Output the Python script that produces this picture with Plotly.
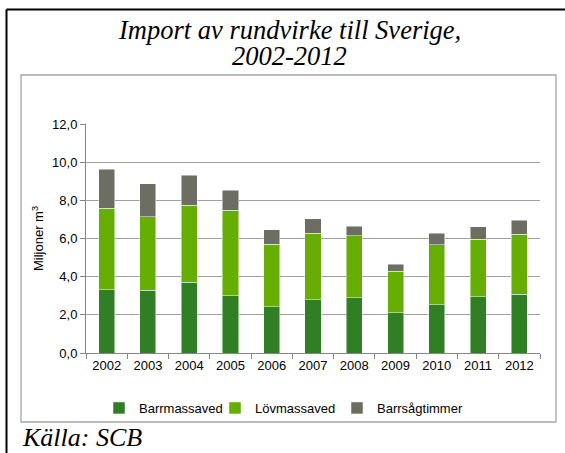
import plotly.graph_objects as go

# Data (miljoner m3)
years = ["2002", "2003", "2004", "2005", "2006", "2007", "2008", "2009", "2010", "2011", "2012"]
barrmassaved = [3.32, 3.28, 3.70, 3.00, 2.43, 2.78, 2.90, 2.11, 2.53, 2.95, 3.09]
lovmassaved = [4.26, 3.87, 4.04, 4.49, 3.28, 3.49, 3.25, 2.17, 3.13, 3.02, 3.13]
barrsagtimmer = [2.05, 1.72, 1.57, 1.04, 0.75, 0.77, 0.49, 0.38, 0.61, 0.65, 0.73]
series_names = ["Barrmassaved", "Lövmassaved", "Barrsågtimmer"]
series_colors = ["#317F24", "#67AE04", "#6D6E63"]
y_ticks = [0, 2, 4, 6, 8, 10, 12]

W, H = 565, 453
L, R, T, B = 86, 540, 124, 353  # plot area in pixels


def px(x):
    return (x - L) / (R - L)


def py(y):
    return (B - y) / (B - T)


serif = "Liberation Serif, Times New Roman"

fig = go.Figure()
# legend entry widths tuned so the items sit close together like in the reference
legend_widths = [71, 77, None]
for name, vals, col, lw in zip(series_names, [barrmassaved, lovmassaved, barrsagtimmer],
                               series_colors, legend_widths):
    fig.add_trace(go.Bar(x=years, y=vals, name=name, marker_color=col,
                         marker_line=dict(color="rgba(255,255,255,0.6)", width=0.8),
                         legendwidth=lw))

fig.update_layout(
    width=W, height=H,
    barmode="stack", bargap=0.61,
    separators=", ",
    paper_bgcolor="white", plot_bgcolor="white",
    margin=dict(l=L, r=W - R, t=T, b=H - B, pad=0),
    font=dict(family="Liberation Sans, Arial", size=13, color="black"),
    showlegend=True,
    legend=dict(orientation="h", x=px(99), y=py(408), xanchor="left", yanchor="middle",
                font=dict(size=13), itemwidth=30, traceorder="normal",
                bgcolor="rgba(0,0,0,0)"),
    shapes=[
        # gray chart frame
        dict(type="rect", xref="paper", yref="paper", x0=px(21), x1=px(556), y0=py(422), y1=py(75),
             line=dict(color="#A6A6A6", width=1.3), layer="below"),
        # black outer frame, top and left
        dict(type="line", xref="paper", yref="paper", x0=px(6.5), x1=px(570), y0=py(9.5), y1=py(9.5),
             line=dict(color="black", width=2)),
        dict(type="line", xref="paper", yref="paper", x0=px(6.5), x1=px(6.5), y0=py(9.5), y1=py(460),
             line=dict(color="black", width=2)),
    ],
    annotations=[
        dict(xref="paper", yref="paper", x=px(289), y=py(30), xanchor="center", yanchor="middle",
             text="<i>Import av rundvirke till Sverige,</i>", showarrow=False,
             font=dict(family=serif, size=26.5, color="black")),
        dict(xref="paper", yref="paper", x=px(289), y=py(56), xanchor="center", yanchor="middle",
             text="<i>2002-2012</i>", showarrow=False,
             font=dict(family=serif, size=26.5, color="black")),
        dict(xref="paper", yref="paper", x=px(20), y=py(438), xanchor="left", yanchor="middle",
             text="<i>Källa: SCB</i>", showarrow=False,
             font=dict(family=serif, size=26, color="black")),
    ],
)

fig.update_yaxes(range=[0, 12], tickvals=y_ticks, tickformat=".1f",
                 showgrid=True, gridcolor="#A0A0A0", gridwidth=1,
                 showline=True, linecolor="#868686", linewidth=1,
                 ticks="outside", ticklen=5, tickcolor="#868686",
                 title=dict(text="Miljoner m<sup>3</sup>", font=dict(size=13), standoff=5),
                 zeroline=False)
fig.update_xaxes(showline=True, linecolor="#868686", linewidth=1,
                 ticks="outside", ticklen=5, tickcolor="#868686", tickson="boundaries",
                 showgrid=False)

fig.write_html("out.html", config={"displayModeBar": False},
               post_script="document.body.style.margin='0';")
